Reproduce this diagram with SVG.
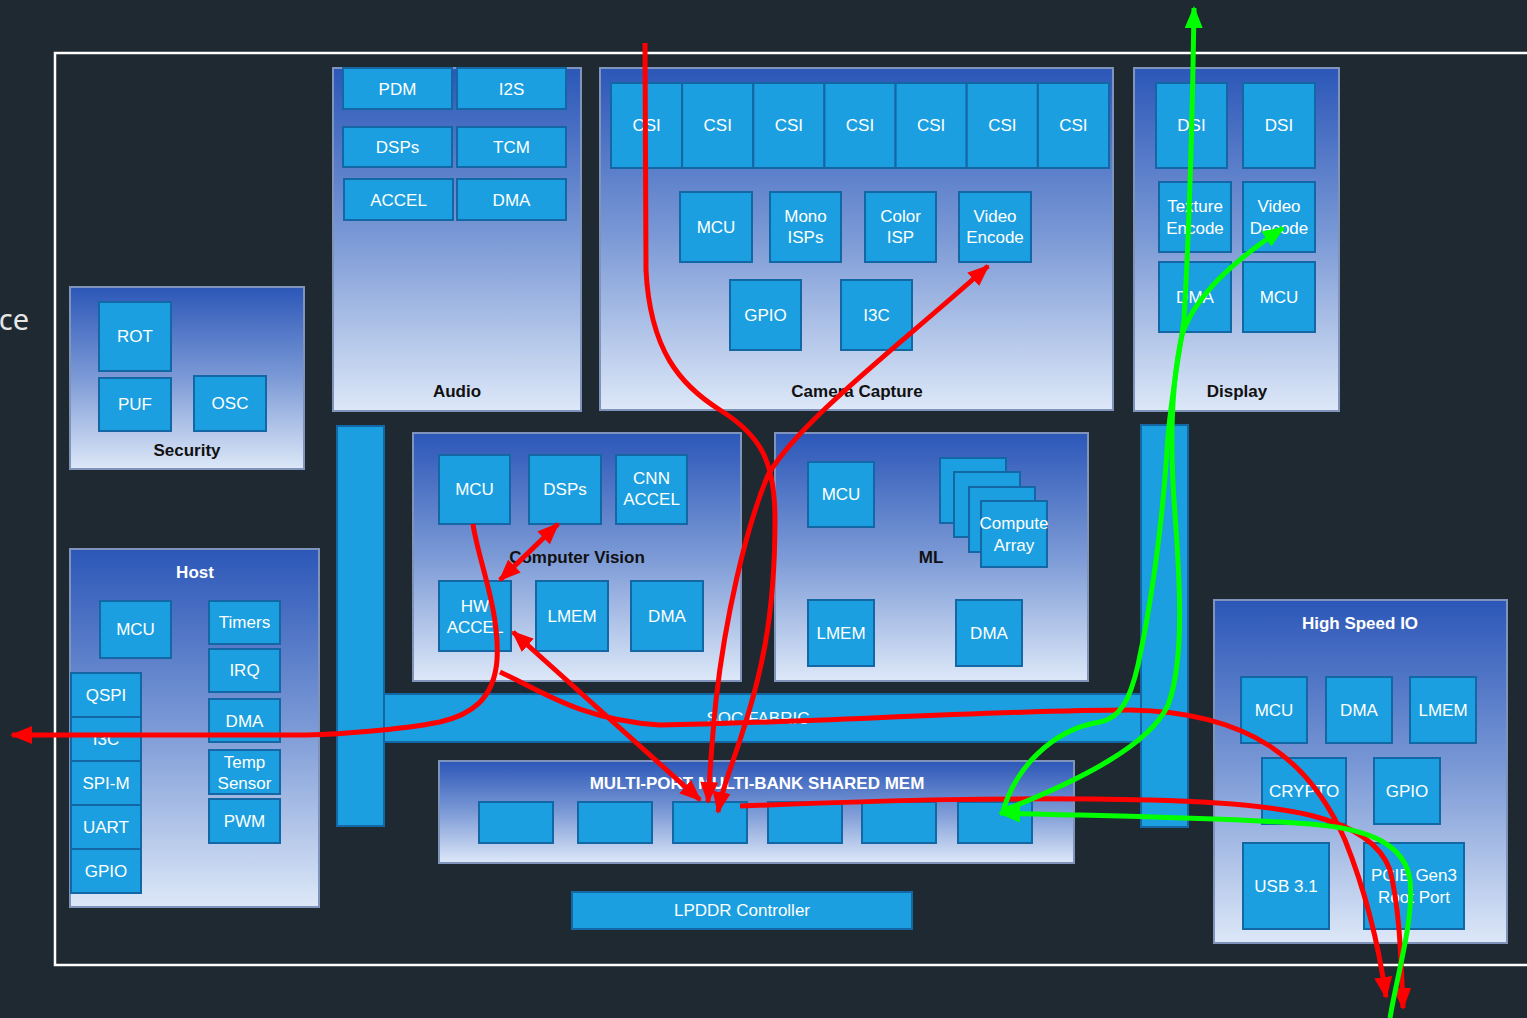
<svg xmlns="http://www.w3.org/2000/svg" width="1527" height="1018" viewBox="0 0 1527 1018">
<defs>
<linearGradient id="pg" x1="0" y1="0" x2="0" y2="1">
<stop offset="0" stop-color="#2c57b8"/>
<stop offset="0.5" stop-color="#7c9ad6"/>
<stop offset="1" stop-color="#dde8f8"/>
</linearGradient>
<marker id="ar" viewBox="0 0 22 18" markerUnits="userSpaceOnUse" markerWidth="22" markerHeight="18" refX="20" refY="9" orient="auto-start-reverse"><path d="M0,0 L22,9 L0,18 z" fill="#ff0000"/></marker>
<marker id="ag" viewBox="0 0 22 18" markerUnits="userSpaceOnUse" markerWidth="22" markerHeight="18" refX="20" refY="9" orient="auto-start-reverse"><path d="M0,0 L22,9 L0,18 z" fill="#00ff00"/></marker>
<style>
.bx{fill:#1b9fe0;stroke:#1467a5;stroke-width:2}
.pn{fill:url(#pg);stroke:#8093bb;stroke-width:2}
.fb{fill:#1b9fe0;stroke:#1467a5;stroke-width:2}
.t{font-family:"Liberation Sans",Arial,sans-serif;font-size:17px;fill:#ffffff;text-anchor:middle}
.lb{font-family:"Liberation Sans",Arial,sans-serif;font-weight:bold;font-size:17px;fill:#111111;text-anchor:middle}
.lw{font-family:"Liberation Sans",Arial,sans-serif;font-weight:bold;font-size:17px;fill:#ffffff;text-anchor:middle}
.r{fill:none;stroke:#ff0000;stroke-width:5}
.g{fill:none;stroke:#00ff00;stroke-width:5}
</style>
</defs>
<rect x="0" y="0" width="1527" height="1018" fill="#1e2932"/>
<text x="29" y="330" font-family="'Noto Sans',sans-serif" font-size="29" fill="#e6e6e6" text-anchor="end">ce</text>
<rect x="55" y="53" width="1500" height="912" fill="none" stroke="#ffffff" stroke-width="2.5"/>

<g id="fabric">
<rect class="fb" x="384" y="694" width="757" height="48"/>
<rect class="fb" x="337" y="426" width="47" height="400"/>
<rect class="fb" x="1141" y="425" width="47" height="402"/>
<text class="t" x="758" y="724">SOC FABRIC</text>
</g>

<g id="audio">
<rect class="pn" x="333" y="68" width="248" height="343"/>
<g id="audio-pdm"><rect class="bx" x="343" y="68" width="109" height="41"/><text class="t" x="397.5" y="94.5">PDM</text></g>
<g id="audio-i2s"><rect class="bx" x="457" y="68" width="109" height="41"/><text class="t" x="511.5" y="94.5">I2S</text></g>
<g id="audio-dsps"><rect class="bx" x="343" y="127" width="109" height="40"/><text class="t" x="397.5" y="153">DSPs</text></g>
<g id="audio-tcm"><rect class="bx" x="457" y="127" width="109" height="40"/><text class="t" x="511.5" y="153">TCM</text></g>
<g id="audio-accel"><rect class="bx" x="344" y="179" width="109" height="41"/><text class="t" x="398.5" y="205.5">ACCEL</text></g>
<g id="audio-dma"><rect class="bx" x="457" y="179" width="109" height="41"/><text class="t" x="511.5" y="205.5">DMA</text></g>
<text class="lb" x="457" y="397">Audio</text>
</g>

<g id="camera">
<rect class="pn" x="600" y="68" width="513" height="342"/>
<g id="cam-csi1"><rect class="bx" x="611" y="83" width="71.1" height="85"/><text class="t" x="646.6" y="131">CSI</text></g>
<g id="cam-csi2"><rect class="bx" x="682.1" y="83" width="71.1" height="85"/><text class="t" x="717.7" y="131">CSI</text></g>
<g id="cam-csi3"><rect class="bx" x="753.3" y="83" width="71.1" height="85"/><text class="t" x="788.9" y="131">CSI</text></g>
<g id="cam-csi4"><rect class="bx" x="824.4" y="83" width="71.1" height="85"/><text class="t" x="860" y="131">CSI</text></g>
<g id="cam-csi5"><rect class="bx" x="895.6" y="83" width="71.1" height="85"/><text class="t" x="931.1" y="131">CSI</text></g>
<g id="cam-csi6"><rect class="bx" x="966.7" y="83" width="71.1" height="85"/><text class="t" x="1002.3" y="131">CSI</text></g>
<g id="cam-csi7"><rect class="bx" x="1037.9" y="83" width="71.1" height="85"/><text class="t" x="1073.4" y="131">CSI</text></g>
<g id="cam-mcu"><rect class="bx" x="680" y="192" width="72" height="70"/><text class="t" x="716" y="233">MCU</text></g>
<g id="cam-mono"><rect class="bx" x="770" y="192" width="71" height="70"/><text class="t" x="805.5" y="222">Mono</text><text class="t" x="805.5" y="243">ISPs</text></g>
<g id="cam-color"><rect class="bx" x="865" y="192" width="71" height="70"/><text class="t" x="900.5" y="222">Color</text><text class="t" x="900.5" y="243">ISP</text></g>
<g id="cam-venc"><rect class="bx" x="959" y="192" width="72" height="70"/><text class="t" x="995" y="222">Video</text><text class="t" x="995" y="243">Encode</text></g>
<g id="cam-gpio"><rect class="bx" x="730" y="280" width="71" height="70"/><text class="t" x="765.5" y="321">GPIO</text></g>
<g id="cam-i3c"><rect class="bx" x="841" y="280" width="71" height="70"/><text class="t" x="876.5" y="321">I3C</text></g>
<text class="lb" x="857" y="397">Camera Capture</text>
</g>

<g id="display">
<rect class="pn" x="1134" y="68" width="205" height="343"/>
<g id="disp-dsi1"><rect class="bx" x="1156" y="83" width="71" height="85"/><text class="t" x="1191.5" y="131">DSI</text></g>
<g id="disp-dsi2"><rect class="bx" x="1243" y="83" width="72" height="85"/><text class="t" x="1279" y="131">DSI</text></g>
<g id="disp-tex"><rect class="bx" x="1159" y="182" width="72" height="70"/><text class="t" x="1195" y="212">Texture</text><text class="t" x="1195" y="234">Encode</text></g>
<g id="disp-vdec"><rect class="bx" x="1243" y="182" width="72" height="70"/><text class="t" x="1279" y="212">Video</text><text class="t" x="1279" y="234">Decode</text></g>
<g id="disp-dma"><rect class="bx" x="1159" y="262" width="72" height="70"/><text class="t" x="1195" y="303">DMA</text></g>
<g id="disp-mcu"><rect class="bx" x="1243" y="262" width="72" height="70"/><text class="t" x="1279" y="303">MCU</text></g>
<text class="lb" x="1237" y="397">Display</text>
</g>

<g id="security">
<rect class="pn" x="70" y="287" width="234" height="182"/>
<g id="sec-rot"><rect class="bx" x="99" y="302" width="72" height="69"/><text class="t" x="135" y="342">ROT</text></g>
<g id="sec-puf"><rect class="bx" x="99" y="378" width="72" height="53"/><text class="t" x="135" y="410">PUF</text></g>
<g id="sec-osc"><rect class="bx" x="194" y="376" width="72" height="55"/><text class="t" x="230" y="409">OSC</text></g>
<text class="lb" x="187" y="456">Security</text>
</g>

<g id="host">
<rect class="pn" x="70" y="549" width="249" height="358"/>
<text class="lw" x="195" y="578">Host</text>
<g id="host-mcu"><rect class="bx" x="100" y="601" width="71" height="57"/><text class="t" x="135.5" y="635">MCU</text></g>
<g id="host-timers"><rect class="bx" x="209" y="601" width="71" height="43"/><text class="t" x="244.5" y="628">Timers</text></g>
<g id="host-irq"><rect class="bx" x="209" y="649" width="71" height="43"/><text class="t" x="244.5" y="676">IRQ</text></g>
<g id="host-dma"><rect class="bx" x="209" y="699" width="71" height="43"/><text class="t" x="244.5" y="727">DMA</text></g>
<g id="host-temp"><rect class="bx" x="209" y="750" width="71" height="44"/><text class="t" x="244.5" y="768">Temp</text><text class="t" x="244.5" y="789">Sensor</text></g>
<g id="host-pwm"><rect class="bx" x="209" y="799" width="71" height="44"/><text class="t" x="244.5" y="827">PWM</text></g>
<g id="host-qspi"><rect class="bx" x="71" y="673" width="70" height="44"/><text class="t" x="106" y="701">QSPI</text></g>
<g id="host-i3c"><rect class="bx" x="71" y="717" width="70" height="44"/><text class="t" x="106" y="745">I3C</text></g>
<g id="host-spim"><rect class="bx" x="71" y="761" width="70" height="44"/><text class="t" x="106" y="789">SPI-M</text></g>
<g id="host-uart"><rect class="bx" x="71" y="805" width="70" height="44"/><text class="t" x="106" y="833">UART</text></g>
<g id="host-gpio"><rect class="bx" x="71" y="849" width="70" height="44"/><text class="t" x="106" y="877">GPIO</text></g>
</g>

<g id="cv">
<rect class="pn" x="413" y="433" width="328" height="248"/>
<g id="cv-mcu"><rect class="bx" x="439" y="455" width="71" height="69"/><text class="t" x="474.5" y="495">MCU</text></g>
<g id="cv-dsps"><rect class="bx" x="529" y="455" width="72" height="69"/><text class="t" x="565" y="495">DSPs</text></g>
<g id="cv-cnn"><rect class="bx" x="616" y="455" width="71" height="69"/><text class="t" x="651.5" y="484">CNN</text><text class="t" x="651.5" y="505">ACCEL</text></g>
<text class="lb" x="577" y="563">Computer Vision</text>
<g id="cv-hw"><rect class="bx" x="439" y="581" width="72" height="70"/><text class="t" x="475" y="612">HW</text><text class="t" x="475" y="633">ACCEL</text></g>
<g id="cv-lmem"><rect class="bx" x="536" y="581" width="72" height="70"/><text class="t" x="572" y="622">LMEM</text></g>
<g id="cv-dma"><rect class="bx" x="631" y="581" width="72" height="70"/><text class="t" x="667" y="622">DMA</text></g>
</g>

<g id="ml">
<rect class="pn" x="775" y="433" width="313" height="248"/>
<g id="ml-mcu"><rect class="bx" x="808" y="462" width="66" height="65"/><text class="t" x="841" y="500">MCU</text></g>
<g id="ml-compute">
<rect class="bx" x="940" y="458" width="66" height="65"/>
<rect class="bx" x="954" y="472" width="66" height="65"/>
<rect class="bx" x="969" y="487" width="66" height="65"/>
<rect class="bx" x="981" y="501" width="66" height="66"/>
<text class="t" x="1014" y="529">Compute</text><text class="t" x="1014" y="551">Array</text>
</g>
<text class="lb" x="931" y="563">ML</text>
<g id="ml-lmem"><rect class="bx" x="808" y="600" width="66" height="66"/><text class="t" x="841" y="639">LMEM</text></g>
<g id="ml-dma"><rect class="bx" x="956" y="600" width="66" height="66"/><text class="t" x="989" y="639">DMA</text></g>
</g>

<g id="sharedmem">
<rect class="pn" x="439" y="761" width="635" height="102"/>
<text class="lw" x="757" y="789">MULTI-PORT MULTI-BANK SHARED MEM</text>
<rect class="bx" x="479" y="802" width="74" height="41"/>
<rect class="bx" x="578" y="802" width="74" height="41"/>
<rect class="bx" x="673" y="802" width="74" height="41"/>
<rect class="bx" x="768" y="802" width="74" height="41"/>
<rect class="bx" x="862" y="802" width="74" height="41"/>
<rect class="bx" x="958" y="802" width="74" height="41"/>
</g>

<g id="lpddr"><rect class="bx" x="572" y="892" width="340" height="37"/><text class="t" x="742" y="916">LPDDR Controller</text></g>

<g id="hsio">
<rect class="pn" x="1214" y="600" width="293" height="343"/>
<text class="lw" x="1360" y="629">High Speed IO</text>
<g id="hs-mcu"><rect class="bx" x="1241" y="677" width="66" height="66"/><text class="t" x="1274" y="716">MCU</text></g>
<g id="hs-dma"><rect class="bx" x="1326" y="677" width="66" height="66"/><text class="t" x="1359" y="716">DMA</text></g>
<g id="hs-lmem"><rect class="bx" x="1410" y="677" width="66" height="66"/><text class="t" x="1443" y="716">LMEM</text></g>
<g id="hs-crypto"><rect class="bx" x="1262" y="758" width="84" height="66"/><text class="t" x="1304" y="797">CRYPTO</text></g>
<g id="hs-gpio"><rect class="bx" x="1374" y="758" width="66" height="66"/><text class="t" x="1407" y="797">GPIO</text></g>
<g id="hs-usb"><rect class="bx" x="1243" y="843" width="86" height="86"/><text class="t" x="1286" y="892">USB 3.1</text></g>
<g id="hs-pcie"><rect class="bx" x="1364" y="843" width="100" height="86"/><text class="t" x="1414" y="881">PCIE Gen3</text><text class="t" x="1414" y="903">Root Port</text></g>
</g>

<g id="connectors">
<path class="r" d="M645,43 L646,270 C650,350 680,385 720,410 C760,435 775,460 775,520 C775,620 760,680 740,740 C730,770 722,790 718,812" marker-end="url(#ar)"/>
<path class="r" d="M988,266 C900,345 800,420 768,475 C745,530 725,620 716,700 C712,740 710,770 708,802" marker-start="url(#ar)" marker-end="url(#ar)"/>
<path class="r" d="M513,632 L700,800" marker-start="url(#ar)" marker-end="url(#ar)"/>
<path class="r" d="M558,524 L500,580" marker-start="url(#ar)" marker-end="url(#ar)"/>
<path class="r" d="M473,524 C478,560 500,610 497,660 C494,700 470,715 440,722 C400,730 330,735 300,735 L12,735" marker-end="url(#ar)"/>
<path class="r" d="M500,672 C540,690 580,720 660,725 C800,723 1000,710 1130,710 C1250,712 1310,760 1345,840 C1365,890 1378,940 1386,997" marker-end="url(#ar)"/>
<path class="r" d="M740,806 C900,800 1000,797 1150,800 C1280,803 1370,815 1390,870 C1400,910 1401,960 1403,1008" marker-end="url(#ar)"/>
<path class="g" d="M1390,1018 C1398,970 1414,920 1410,880 C1405,845 1370,830 1320,825 C1250,818 1100,816 1000,813" marker-end="url(#ag)"/>
<path class="g" d="M1003,811 C1015,770 1050,730 1100,722 C1120,718 1130,700 1138,665 C1150,610 1162,530 1167,450 C1170,400 1180,350 1184,320 C1188,250 1192,150 1194,8" marker-end="url(#ag)"/>
<path class="g" d="M1005,810 C1080,780 1150,745 1168,705 C1185,660 1180,580 1174,500 C1170,440 1172,380 1182,335 C1195,295 1235,260 1283,228" marker-end="url(#ag)"/>
</g>
</svg>
